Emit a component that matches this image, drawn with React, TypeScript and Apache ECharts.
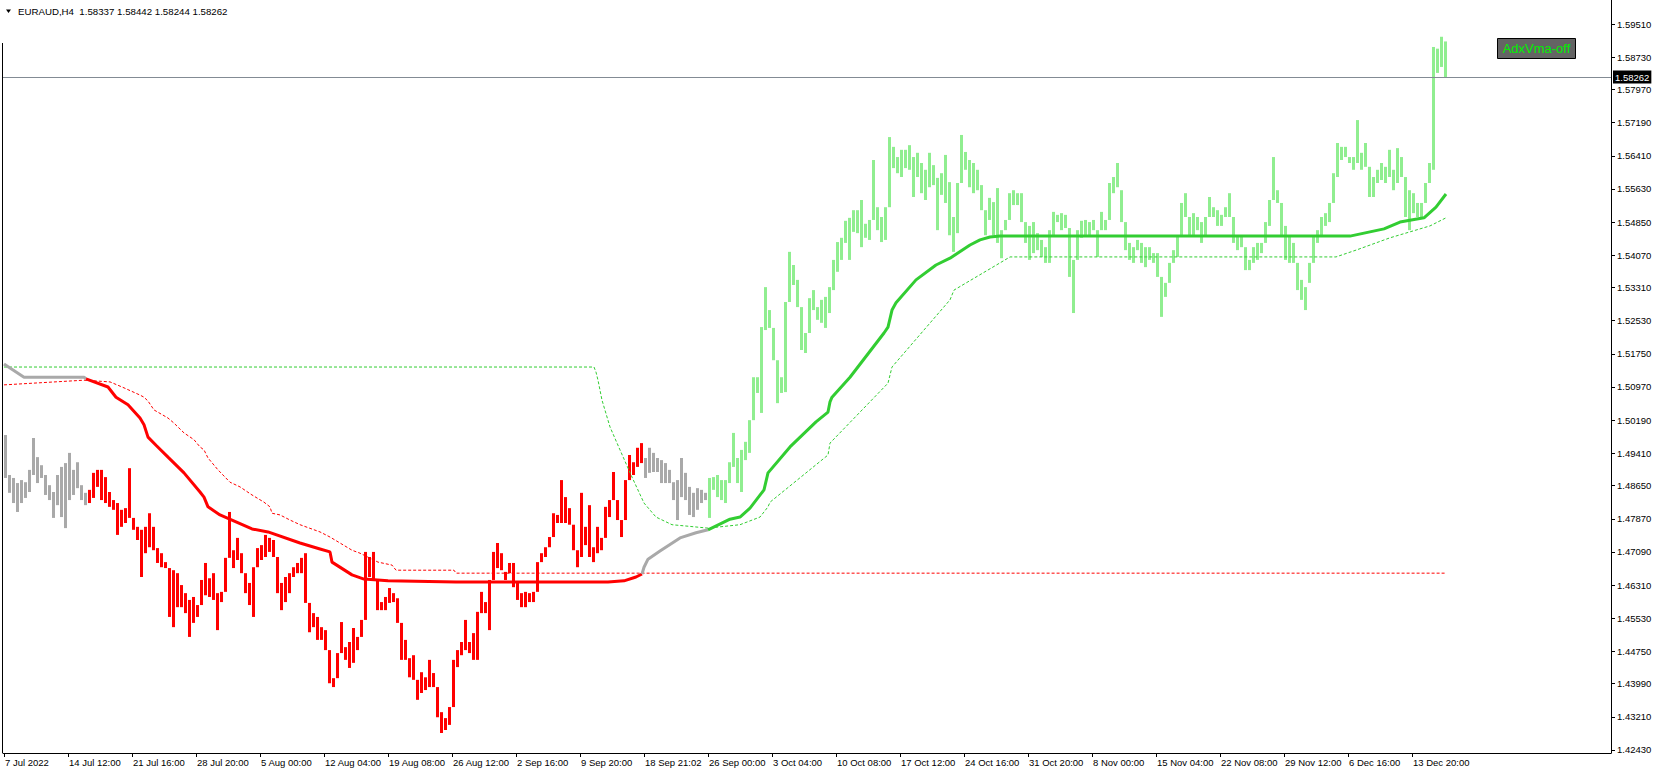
import React, { useEffect, useRef } from "react";
import * as echarts from "echarts";

// ---------- texts ----------
const symbolTitle = "EURAUD,H4  1.58337 1.58442 1.58244 1.58262";
const lastClose = 1.58262;
const buttonLabel = "AdxVma-off";

// ---------- axes ----------
const dateLabels = [
  "7 Jul 2022", "14 Jul 12:00", "21 Jul 16:00", "28 Jul 20:00", "5 Aug 00:00", "12 Aug 04:00",
  "19 Aug 08:00", "26 Aug 12:00", "2 Sep 16:00", "9 Sep 20:00", "18 Sep 21:02", "26 Sep 00:00",
  "3 Oct 04:00", "10 Oct 08:00", "17 Oct 12:00", "24 Oct 16:00", "31 Oct 20:00", "8 Nov 00:00",
  "15 Nov 04:00", "22 Nov 08:00", "29 Nov 12:00", "6 Dec 16:00", "13 Dec 20:00",
];
const barsPerLabel = 32;
const totalSlots = 804; // bars that fit the window, including the empty shift on the right
const barsPerEntry = 2; // each entry below covers two H4 bars

const priceTicks = [
  1.4243, 1.4321, 1.4399, 1.4475, 1.4553, 1.4631, 1.4709, 1.4787, 1.4865, 1.4941, 1.5019, 1.5097,
  1.5175, 1.5253, 1.5331, 1.5407, 1.5485, 1.5563, 1.5641, 1.5719, 1.5797, 1.5873, 1.5951,
];
const priceMin = 1.42359;
const priceMax = 1.60075;

// ---------- price bars (low / high of each pair of H4 bars) ----------
const lows = [
  1.4883, 1.4848, 1.4824, 1.4803, 1.4824, 1.4836, 1.4850, 1.4890, 1.4871, 1.4883,
  1.4843, 1.4831, 1.4789, 1.4819, 1.4791, 1.4765, 1.4831, 1.4843, 1.4859, 1.4831,
  1.4819, 1.4824, 1.4836, 1.4862, 1.4831, 1.4824, 1.4815, 1.4808, 1.4749, 1.4768,
  1.4777, 1.4789, 1.4761, 1.4737, 1.4650, 1.4706, 1.4720, 1.4713, 1.4683, 1.4673,
  1.4671, 1.4556, 1.4532, 1.4579, 1.4579, 1.4565, 1.4509, 1.4542, 1.4556, 1.4584,
  1.4607, 1.4603, 1.4596, 1.4525, 1.4591, 1.4615, 1.4695, 1.4671, 1.4690, 1.4659,
  1.4612, 1.4584, 1.4556, 1.4673, 1.4690, 1.4697, 1.4709, 1.4697, 1.4612, 1.4572,
  1.4591, 1.4612, 1.4650, 1.4659, 1.4659, 1.4589, 1.4520, 1.4532, 1.4502, 1.4502,
  1.4478, 1.4400, 1.4391, 1.4412, 1.4471, 1.4455, 1.4436, 1.4448, 1.4478, 1.4509,
  1.4549, 1.4650, 1.4643, 1.4572, 1.4572, 1.4572, 1.4589, 1.4591, 1.4542, 1.4455,
  1.4455, 1.4414, 1.4408, 1.4361, 1.4377, 1.4384, 1.4391, 1.4391, 1.4320, 1.4283,
  1.4290, 1.4302, 1.4344, 1.4438, 1.4466, 1.4478, 1.4471, 1.4455, 1.4455, 1.4565,
  1.4565, 1.4525, 1.4643, 1.4671, 1.4666, 1.4643, 1.4659, 1.4626, 1.4596, 1.4579,
  1.4579, 1.4591, 1.4591, 1.4615, 1.4685, 1.4697, 1.4720, 1.4744, 1.4777, 1.4777,
  1.4777, 1.4773, 1.4713, 1.4673, 1.4697, 1.4725, 1.4697, 1.4685, 1.4706, 1.4713,
  1.4742, 1.4791, 1.4831, 1.4784, 1.4744, 1.4784, 1.4878, 1.4890, 1.4909, 1.4918,
  1.4883, 1.4895, 1.4897, 1.4897, 1.4871, 1.4871, 1.4871, 1.4831, 1.4784, 1.4838,
  1.4831, 1.4796, 1.4791, 1.4808, 1.4824, 1.4831, 1.4789, 1.4855, 1.4838, 1.4831,
  1.4824, 1.4871, 1.4909, 1.4871, 1.4850, 1.4925, 1.4942, 1.5019, 1.5083, 1.5036,
  1.5231, 1.5236, 1.5160, 1.5059, 1.5083, 1.5085, 1.5297, 1.5337, 1.5285, 1.5184,
  1.5177, 1.5224, 1.5278, 1.5255, 1.5248, 1.5236, 1.5271, 1.5325, 1.5368, 1.5396,
  1.5436, 1.5396, 1.5462, 1.5459, 1.5426, 1.5448, 1.5443, 1.5490, 1.5466, 1.5438,
  1.5443, 1.5520, 1.5612, 1.5600, 1.5591, 1.5612, 1.5608, 1.5544, 1.5591, 1.5553,
  1.5537, 1.5567, 1.5572, 1.5466, 1.5549, 1.5530, 1.5454, 1.5415, 1.5459, 1.5577,
  1.5608, 1.5567, 1.5553, 1.5560, 1.5513, 1.5454, 1.5490, 1.5454, 1.5436, 1.5400,
  1.5466, 1.5490, 1.5525, 1.5525, 1.5485, 1.5436, 1.5396, 1.5412, 1.5419, 1.5403,
  1.5389, 1.5389, 1.5450, 1.5485, 1.5466, 1.5471, 1.5356, 1.5271, 1.5396, 1.5448,
  1.5450, 1.5450, 1.5466, 1.5403, 1.5466, 1.5466, 1.5490, 1.5553, 1.5567, 1.5485,
  1.5419, 1.5396, 1.5389, 1.5419, 1.5389, 1.5379, 1.5396, 1.5389, 1.5356, 1.5262,
  1.5309, 1.5342, 1.5389, 1.5403, 1.5450, 1.5497, 1.5450, 1.5450, 1.5466, 1.5436,
  1.5450, 1.5497, 1.5497, 1.5476, 1.5476, 1.5497, 1.5497, 1.5436, 1.5419, 1.5426,
  1.5372, 1.5372, 1.5389, 1.5396, 1.5412, 1.5436, 1.5476, 1.5537, 1.5530, 1.5450,
  1.5396, 1.5389, 1.5389, 1.5325, 1.5302, 1.5278, 1.5342, 1.5389, 1.5436, 1.5450,
  1.5476, 1.5485, 1.5530, 1.5591, 1.5631, 1.5638, 1.5624, 1.5608, 1.5624, 1.5608,
  1.5615, 1.5544, 1.5544, 1.5577, 1.5584, 1.5577, 1.5591, 1.5560, 1.5577, 1.5591,
  1.5497, 1.5466, 1.5506, 1.5497, 1.5497, 1.5530, 1.5577, 1.5608, 1.5836, 1.5850,
  1.5824,
];
const highs = [
  1.4984, 1.4890, 1.4883, 1.4871, 1.4878, 1.4873, 1.4902, 1.4977, 1.4932, 1.4913,
  1.4890, 1.4866, 1.4850, 1.4890, 1.4909, 1.4918, 1.4942, 1.4902, 1.4920, 1.4866,
  1.4848, 1.4855, 1.4895, 1.4902, 1.4902, 1.4885, 1.4850, 1.4831, 1.4824, 1.4808,
  1.4812, 1.4906, 1.4789, 1.4768, 1.4761, 1.4768, 1.4800, 1.4768, 1.4718, 1.4706,
  1.4685, 1.4671, 1.4666, 1.4659, 1.4631, 1.4612, 1.4596, 1.4603, 1.4584, 1.4643,
  1.4683, 1.4647, 1.4659, 1.4612, 1.4615, 1.4695, 1.4803, 1.4713, 1.4742, 1.4706,
  1.4659, 1.4636, 1.4673, 1.4718, 1.4725, 1.4749, 1.4742, 1.4737, 1.4697, 1.4636,
  1.4650, 1.4659, 1.4673, 1.4683, 1.4695, 1.4706, 1.4589, 1.4565, 1.4556, 1.4532,
  1.4525, 1.4478, 1.4412, 1.4471, 1.4544, 1.4485, 1.4497, 1.4530, 1.4509, 1.4549,
  1.4709, 1.4697, 1.4709, 1.4643, 1.4591, 1.4603, 1.4624, 1.4612, 1.4600, 1.4542,
  1.4502, 1.4459, 1.4466, 1.4408, 1.4426, 1.4414, 1.4455, 1.4424, 1.4391, 1.4332,
  1.4318, 1.4344, 1.4455, 1.4478, 1.4497, 1.4549, 1.4497, 1.4518, 1.4568, 1.4615,
  1.4591, 1.4643, 1.4709, 1.4730, 1.4706, 1.4662, 1.4683, 1.4683, 1.4636, 1.4612,
  1.4615, 1.4612, 1.4615, 1.4685, 1.4706, 1.4720, 1.4744, 1.4800, 1.4796, 1.4878,
  1.4838, 1.4812, 1.4773, 1.4713, 1.4848, 1.4768, 1.4819, 1.4720, 1.4768, 1.4742,
  1.4815, 1.4831, 1.4897, 1.4831, 1.4784, 1.4878, 1.4937, 1.4920, 1.4954, 1.4965,
  1.4930, 1.4954, 1.4942, 1.4930, 1.4925, 1.4918, 1.4902, 1.4873, 1.4878, 1.4930,
  1.4895, 1.4862, 1.4848, 1.4859, 1.4855, 1.4848, 1.4883, 1.4885, 1.4890, 1.4878,
  1.4878, 1.4920, 1.4989, 1.4930, 1.4949, 1.4968, 1.5019, 1.5120, 1.5120, 1.5238,
  1.5332, 1.5278, 1.5236, 1.5160, 1.5120, 1.5297, 1.5415, 1.5384, 1.5349, 1.5285,
  1.5224, 1.5306, 1.5325, 1.5285, 1.5302, 1.5309, 1.5332, 1.5396, 1.5438, 1.5448,
  1.5488, 1.5495, 1.5513, 1.5513, 1.5537, 1.5481, 1.5490, 1.5631, 1.5520, 1.5497,
  1.5520, 1.5685, 1.5662, 1.5638, 1.5655, 1.5655, 1.5666, 1.5638, 1.5648, 1.5624,
  1.5608, 1.5648, 1.5619, 1.5589, 1.5600, 1.5643, 1.5579, 1.5497, 1.5577, 1.5690,
  1.5650, 1.5631, 1.5624, 1.5608, 1.5572, 1.5513, 1.5542, 1.5532, 1.5565, 1.5466,
  1.5490, 1.5553, 1.5560, 1.5553, 1.5553, 1.5485, 1.5476, 1.5485, 1.5459, 1.5443,
  1.5426, 1.5466, 1.5509, 1.5502, 1.5506, 1.5502, 1.5471, 1.5396, 1.5466, 1.5488,
  1.5490, 1.5485, 1.5490, 1.5466, 1.5509, 1.5490, 1.5577, 1.5591, 1.5624, 1.5560,
  1.5485, 1.5436, 1.5426, 1.5443, 1.5436, 1.5426, 1.5426, 1.5412, 1.5412, 1.5356,
  1.5342, 1.5389, 1.5419, 1.5450, 1.5530, 1.5553, 1.5497, 1.5506, 1.5497, 1.5485,
  1.5497, 1.5544, 1.5520, 1.5513, 1.5502, 1.5520, 1.5553, 1.5497, 1.5450, 1.5450,
  1.5426, 1.5396, 1.5426, 1.5436, 1.5436, 1.5485, 1.5537, 1.5638, 1.5560, 1.5530,
  1.5476, 1.5450, 1.5436, 1.5389, 1.5349, 1.5332, 1.5389, 1.5450, 1.5466, 1.5497,
  1.5506, 1.5530, 1.5600, 1.5671, 1.5662, 1.5662, 1.5638, 1.5638, 1.5725, 1.5648,
  1.5671, 1.5615, 1.5591, 1.5608, 1.5624, 1.5615, 1.5655, 1.5608, 1.5659, 1.5638,
  1.5591, 1.5560, 1.5553, 1.5530, 1.5530, 1.5577, 1.5624, 1.5897, 1.5893, 1.5921,
  1.5910,
];

// ---------- AdxVma state (bar where each state starts) ----------
const trendStartBars = [0, 41, 319, 352];
const trendStates = ["flat", "down", "flat", "up"];

// ---------- AdxVma line and its two bands: [bar, price] ----------
const adxVma: [number, number][] = [
  [0, 1.5151], [10, 1.512], [40, 1.512], [41, 1.5116], [52, 1.5097], [56, 1.5073], [62, 1.5055],
  [68, 1.5024], [70, 1.5008], [72, 1.4979], [76, 1.496], [82, 1.4932], [90, 1.4895], [98, 1.485],
  [100, 1.4838], [102, 1.4815], [108, 1.4796], [114, 1.4784], [124, 1.4763], [132, 1.4756],
  [148, 1.473], [158, 1.4716], [163, 1.4709], [164, 1.4685], [174, 1.4655], [180, 1.4645],
  [192, 1.4641], [226, 1.4638], [302, 1.4638], [310, 1.4641], [316, 1.465], [319, 1.4657],
  [320, 1.4673], [322, 1.4692], [328, 1.4711], [338, 1.4742], [346, 1.4754], [352, 1.4761],
  [363, 1.4786], [368, 1.4791], [373, 1.4812], [380, 1.4855], [382, 1.4895], [393, 1.4956],
  [406, 1.5015], [412, 1.5038], [413, 1.5062], [414, 1.5073], [423, 1.512], [440, 1.5224],
  [442, 1.5238], [444, 1.5278], [446, 1.5295], [456, 1.5349], [466, 1.5384], [473, 1.54],
  [483, 1.5431], [488, 1.5443], [493, 1.545], [498, 1.5452], [673, 1.5452], [690, 1.5469],
  [698, 1.5485], [710, 1.5495], [716, 1.552], [721, 1.5551],
];
const redBand: [number, number][] = [
  [0, 1.5102], [40, 1.5113], [53, 1.5109], [60, 1.5095], [68, 1.5078], [70, 1.5073], [72, 1.5064],
  [75, 1.5043], [82, 1.5024], [85, 1.5012], [90, 1.4989], [95, 1.4973], [98, 1.4956], [100, 1.4949],
  [102, 1.493], [107, 1.4902], [113, 1.4873], [118, 1.4862], [124, 1.4843], [130, 1.4826],
  [133, 1.4815], [134, 1.48], [138, 1.4796], [143, 1.4784], [148, 1.4773], [158, 1.4756],
  [163, 1.4744], [168, 1.473], [174, 1.4713], [178, 1.4706], [187, 1.4685], [194, 1.4678],
  [196, 1.4666], [225, 1.4666], [226, 1.4659], [721, 1.4659],
];
const greenBand: [number, number][] = [
  [0, 1.5144], [295, 1.5144], [296, 1.5132], [297, 1.5113], [299, 1.5066], [303, 1.5003],
  [308, 1.4949], [314, 1.4885], [320, 1.4824], [326, 1.4791], [334, 1.4773], [352, 1.4765],
  [368, 1.4773], [378, 1.4791], [382, 1.4815], [383, 1.4826], [412, 1.4937], [413, 1.4965],
  [442, 1.5106], [444, 1.5144], [473, 1.5302], [475, 1.5325], [498, 1.5389], [503, 1.5403],
  [666, 1.5403], [676, 1.5419], [693, 1.5448], [703, 1.5462], [713, 1.5476], [721, 1.5495],
];

// ---------- styles ----------
const barColors: Record<string, string> = { flat: "#a9a9a9", down: "#ff0000", up: "#90ee90" };
const lineColors: Record<string, string> = { flat: "#a9a9a9", down: "#ff0000", up: "#32cd32" };
const uiFont = "'Liberation Sans', Arial, sans-serif";
const uiSize = 9.5;

function stateAt(bar: number): string {
  let s = trendStates[0];
  for (let k = 0; k < trendStartBars.length; k++) if (bar >= trendStartBars[k]) s = trendStates[k];
  return s;
}

function buildOption() {
  const priceData = lows.map((lo, j) => {
    const bar = j * barsPerEntry;
    return [bar + (barsPerEntry - 1) / 2, lo, highs[j], trendStates.indexOf(stateAt(bar))];
  });

  const maSeries = trendStartBars.map((start, k) => {
    const end = k + 1 < trendStartBars.length ? trendStartBars[k + 1] : Infinity;
    const pts = adxVma.filter(([b]) => b >= start && b <= end);
    const s: any = {
      type: "line",
      data: pts,
      symbol: "none",
      showSymbol: false,
      silent: true,
      z: 4,
      lineStyle: { color: lineColors[trendStates[k]], width: 3 },
    };
    if (k === 0) {
      s.markLine = {
        silent: true,
        symbol: "none",
        precision: 5,
        data: [{ yAxis: lastClose }],
        lineStyle: { color: "#838b94", type: "solid", width: 1 },
        label: {
          show: true,
          position: "end",
          distance: 2,
          formatter: lastClose.toFixed(5),
          color: "#ffffff",
          backgroundColor: "#000000",
          padding: [2, 2, 1, 2],
          fontSize: uiSize,
          fontFamily: uiFont,
        },
        z: 2,
      };
    }
    return s;
  });

  const tickBars = dateLabels.map((_, i) => i * barsPerLabel);

  return {
    animation: false,
    backgroundColor: "#ffffff",
    grid: { left: 3, right: 47, top: 0, bottom: 21, containLabel: false },
    xAxis: {
      type: "value",
      min: -0.5,
      max: totalSlots - 0.5,
      axisLine: { show: true, onZero: false, lineStyle: { color: "#000", width: 1 } },
      axisTick: { show: true, length: 4, customValues: tickBars, lineStyle: { color: "#000" } },
      axisLabel: {
        customValues: tickBars,
        formatter: (v: number) => dateLabels[Math.round(v / barsPerLabel)] ?? "",
        align: "left",
        margin: 4,
        padding: [0, 0, 0, 1],
        fontSize: uiSize,
        color: "#000",
        fontFamily: uiFont,
      },
      splitLine: { show: false },
    },
    yAxis: {
      type: "value",
      position: "right",
      min: priceMin,
      max: priceMax,
      axisLine: { show: true, onZero: false, lineStyle: { color: "#000", width: 1 } },
      axisTick: { show: true, length: 4, customValues: priceTicks, lineStyle: { color: "#000" } },
      axisLabel: {
        customValues: priceTicks,
        formatter: (v: number) => v.toFixed(5),
        margin: 6,
        fontSize: uiSize,
        color: "#000",
        fontFamily: uiFont,
      },
      splitLine: { show: false },
    },
    series: [
      {
        type: "custom",
        silent: true,
        z: 1,
        clip: true,
        encode: { x: 0, y: [1, 2] },
        data: priceData,
        renderItem: (_p: any, api: any) => {
          const x = api.value(0);
          const top = api.coord([x, api.value(2)]);
          const bot = api.coord([x, api.value(1)]);
          const step = api.size([1, 0])[0];
          const h = Math.max(1, bot[1] - top[1]);
          const left = Math.round(top[0] - step / 2);
          return {
            type: "rect",
            shape: { x: left, y: top[1], width: step + 1, height: h },
            style: { fill: barColors[trendStates[api.value(3)]] },
          };
        },
      },
      {
        type: "line",
        data: redBand,
        symbol: "none",
        silent: true,
        z: 3,
        lineStyle: { color: "#ff0000", width: 1, type: [3, 2] },
      },
      {
        type: "line",
        data: greenBand,
        symbol: "none",
        silent: true,
        z: 3,
        lineStyle: { color: "#32cd32", width: 1, type: [3, 2] },
      },
      ...maSeries,
    ],
    graphic: [
      { type: "line", silent: true, shape: { x1: 2.5, y1: 43, x2: 2.5, y2: 753 }, style: { stroke: "#000", lineWidth: 1 } },
      { type: "polygon", silent: true, shape: { points: [[6, 9.5], [11, 9.5], [8.5, 13]] }, style: { fill: "#000" } },
      {
        type: "text",
        silent: true,
        x: 18,
        y: 11,
        style: {
          text: symbolTitle,
          font: "9.7px " + uiFont,
          fill: "#000",
          verticalAlign: "middle",
          textVerticalAlign: "middle",
        },
      },
      {
        type: "rect",
        silent: true,
        shape: { x: 1497.5, y: 38.5, width: 78, height: 20 },
        style: { fill: "#646464", stroke: "#000", lineWidth: 1 },
      },
      {
        type: "text",
        silent: true,
        x: 1536.5,
        y: 48.5,
        style: {
          text: buttonLabel,
          font: "13px 'Liberation Sans', Arial, sans-serif",
          fill: "#00f000",
          align: "center",
          textAlign: "center",
          verticalAlign: "middle",
          textVerticalAlign: "middle",
        },
      },
    ],
  };
}

export default function App() {
  const ref = useRef<HTMLDivElement>(null);
  useEffect(() => {
    if (!ref.current) return;
    const chart = echarts.init(ref.current, null, { renderer: "svg" });
    chart.setOption(buildOption() as any);
    return () => chart.dispose();
  }, []);
  return (
    <div
      ref={ref}
      style={{ position: "fixed", left: 0, top: 0, width: 1658, height: 774, background: "#fff" }}
    />
  );
}
